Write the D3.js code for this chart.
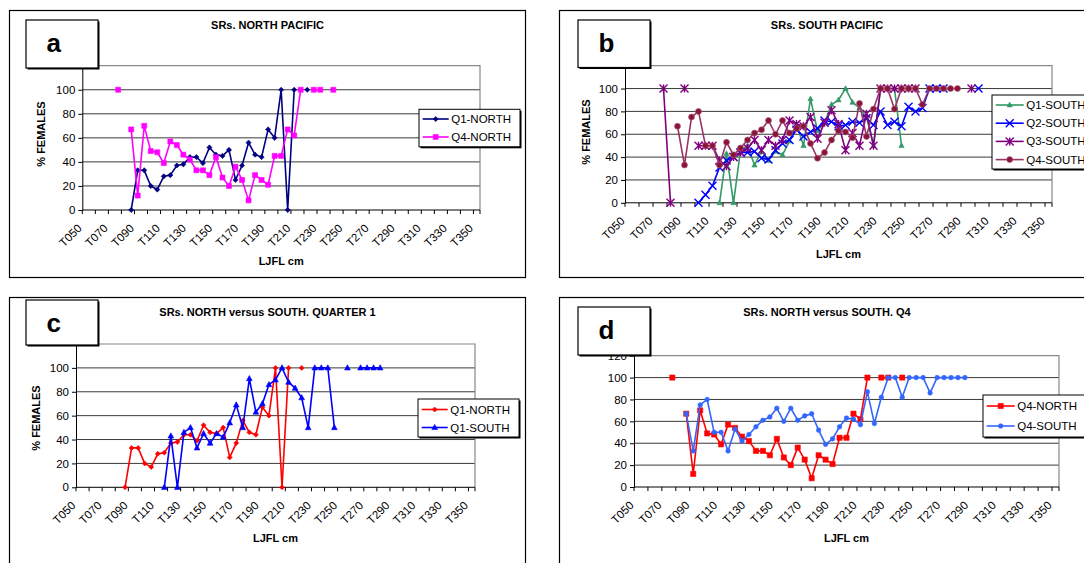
<!DOCTYPE html>
<html>
<head>
<meta charset="utf-8">
<script src="https://cdn.jsdelivr.net/npm/d3@7"></script>
<style>
  body { margin: 0; background: #fff; }
  svg text { font-family: "Liberation Sans", Arial, sans-serif; fill: #000; }
</style>
</head>
<body>
<svg id="chart" width="1084" height="563"></svg>
<script>
const _ = null;

// length classes, 5 cm steps
const categories = [
  "T050","T055","T060","T065","T070","T075","T080","T085","T090","T095",
  "T100","T105","T110","T115","T120","T125","T130","T135","T140","T145",
  "T150","T155","T160","T165","T170","T175","T180","T185","T190","T195",
  "T200","T205","T210","T215","T220","T225","T230","T235","T240","T245",
  "T250","T255","T260","T265","T270","T275","T280","T285","T290","T295",
  "T300","T305","T310","T315","T320","T325","T330","T335","T340","T345",
  "T350"
];
const xTickLabels = ["T050","T070","T090","T110","T130","T150","T170","T190",
  "T210","T230","T250","T270","T290","T310","T330","T350"];
const yTicks = [0, 20, 40, 60, 80, 100, 120];

// % females per length class
const q1North = [
  _,_,_,_,_,_,_,0,33,33,
  20,17,28,29,37,38,44,44,39,52,
  46,45,50,25,37,56,46,44,67,60,
  100,0,100,_,100,_,_,_,_,_,
  _,_,_,_,_,_,_,_,_,_,
  _,_,_,_,_,_,_,_,_,_,_
];
const q4North = [
  _,_,_,_,_,100,_,67,12,70,
  49,48,39,57,54,46,42,33,33,29,
  44,27,20,36,25,8,29,25,21,45,
  45,67,62,100,_,100,100,_,100,_,
  _,_,_,_,_,_,_,_,_,_,
  _,_,_,_,_,_,_,_,_,_,_
];
const q1South = [
  _,_,_,_,_,_,_,_,_,_,
  _,_,_,0,43,0,46,50,33,45,
  37,45,42,54,69,50,91,63,70,86,
  90,100,88,83,75,50,100,100,100,50,
  _,100,_,100,100,100,100,_,_,_,
  _,_,_,_,_,_,_,_,_,_,_
];
const q2South = [
  _,_,_,_,_,_,_,_,_,_,
  0,7,15,31,37,40,44,44,45,39,
  38,46,52,55,64,58,62,65,72,71,
  67,68,71,70,74,68,80,68,71,67,
  84,80,83,100,100,100,_,_,_,_,
  100,_,_,_,_,_,_,_,_,_,_
];
const q3South = [
  _,_,_,_,_,100,0,_,100,_,
  50,50,50,37,32,40,44,48,55,46,
  55,50,55,72,69,67,75,56,70,81,
  69,46,61,50,78,50,100,100,100,100,
  100,100,_,_,_,_,_,_,_,100,
  _,_,_,_,_,_,_,_,_,_,_
];
const q4South = [
  _,_,_,_,_,_,_,67,33,75,
  80,50,50,33,53,42,48,55,61,64,
  72,60,72,61,65,67,52,39,44,55,
  63,62,57,87,58,82,100,100,82,100,
  100,100,86,100,100,100,100,100,_,_,
  _,_,_,_,_,_,_,_,_,_,_
];

const panels = [
  {
    letter: "a", title: "SRs. NORTH PACIFIC", hideTop: true,
    frame: [9.5, 10.5, 516, 267], box: [26, 20, 72, 48], titleX: 267.5, titleY: 29,
    plot: { left: 82.3, right: 480, top: 65.7, bottom: 210 },
    yTitle: [45, 134], xTitleY: 265,
    legend: { x: 419, y: 109.3, w: 101, h: 37.5, first: 9.7, step: 18, sample: 26 },
    series: [
      { name: "Q1-NORTH", data: q1North, color: "#000080", marker: "diamond", r: 2.6 },
      { name: "Q4-NORTH", data: q4North, color: "#FF00FF", marker: "square", r: 2.5 }
    ]
  },
  {
    letter: "b", title: "SRs. SOUTH PACIFIC", hideTop: true,
    frame: [559.5, 10.5, 540, 267], box: [578, 20, 72, 47.5], titleX: 827, titleY: 29,
    plot: { left: 625, right: 1052, top: 65.7, bottom: 202.8 },
    yTitle: [590, 132], xTitleY: 258,
    legend: { x: 992, y: 95, w: 100, h: 74, first: 10, step: 18.2, sample: 28 },
    series: [
      { name: "Q1-SOUTH", data: q1South, color: "#339966", marker: "triangle", r: 2.4 },
      { name: "Q2-SOUTH", data: q2South, color: "#0000FF", marker: "x", r: 4 },
      { name: "Q3-SOUTH", data: q3South, color: "#800080", marker: "star", r: 4 },
      { name: "Q4-SOUTH", data: q4South, color: "#993366", fill: "#8B1538", marker: "circle", r: 3 }
    ]
  },
  {
    letter: "c", title: "SRs. NORTH versus SOUTH. QUARTER 1", hideTop: true,
    frame: [9.5, 297.5, 516, 280], box: [26, 300, 72, 45], titleX: 267.5, titleY: 316,
    plot: { left: 76, right: 475, top: 344, bottom: 487.3 },
    yTitle: [40, 418], xTitleY: 542,
    legend: { x: 418, y: 399, w: 101, h: 38, first: 10.5, step: 18, sample: 26 },
    series: [
      { name: "Q1-NORTH", data: q1North, color: "#FF0000", marker: "diamond", r: 2.5 },
      { name: "Q1-SOUTH", data: q1South, color: "#0000FF", marker: "triangle", r: 2.6 }
    ]
  },
  {
    letter: "d", title: "SRs. NORTH versus SOUTH. Q4", hideTop: false,
    frame: [559.5, 297.5, 540, 280], box: [578, 307, 72, 48], titleX: 827, titleY: 316,
    plot: { left: 634, right: 1059, top: 355.7, bottom: 487 },
    yTitle: null, xTitleY: 542,
    legend: { x: 983, y: 395, w: 110, h: 42, first: 11, step: 20, sample: 28 },
    series: [
      { name: "Q4-NORTH", data: q4North, color: "#FF0000", marker: "square", r: 2.6 },
      { name: "Q4-SOUTH", data: q4South, color: "#3366FF", marker: "circle", r: 2.3 }
    ]
  }
];

function markerPath(type, r) {
  switch (type) {
    case "diamond": return `M0,${-r}L${r},0L0,${r}L${-r},0Z`;
    case "square": return `M${-r},${-r}H${r}V${r}H${-r}Z`;
    case "triangle": return `M0,${-r * 1.2}L${r * 1.1},${r * 0.8}L${-r * 1.1},${r * 0.8}Z`;
    case "x": return `M${-r},${-r}L${r},${r}M${-r},${r}L${r},${-r}`;
    case "star": return `M${-r},${-r}L${r},${r}M${-r},${r}L${r},${-r}M0,${-r}L0,${r}`;
    case "circle": return d3.symbol(d3.symbolCircle, Math.PI * r * r)();
  }
}
const stroked = t => t === "x" || t === "star";

function styleMarker(sel, s) {
  sel.attr("d", markerPath(s.marker, s.r))
    .attr("fill", stroked(s.marker) ? "none" : (s.fill || s.color))
    .attr("stroke", stroked(s.marker) ? s.color : (s.fill ? "#b0607f" : s.color))
    .attr("stroke-width", stroked(s.marker) ? 1.4 : 0.6);
}

const svg = d3.select("#chart");

function drawPanel(p) {
  const g = svg.append("g");
  const [fx, fy, fw, fh] = p.frame;
  g.append("rect").attr("x", fx).attr("y", fy).attr("width", fw).attr("height", fh)
    .attr("fill", "#fff").attr("stroke", "#000").attr("stroke-width", 1.2);

  const x = d3.scaleBand().domain(categories).range([p.plot.left, p.plot.right]);
  const y = d3.scaleLinear().domain([0, 120]).range([p.plot.bottom, p.plot.top]);
  const bw = x.bandwidth();

  // gridlines
  g.selectAll(".grid").data(yTicks.filter(v => v > 0 && v < 120)).join("line")
    .attr("x1", p.plot.left).attr("x2", p.plot.right)
    .attr("y1", d => y(d)).attr("y2", d => y(d))
    .attr("stroke", "#3a3a3a").attr("stroke-width", 1);

  // plot area border (top, right)
  g.append("path")
    .attr("d", `M${p.plot.left},${y(120)}H${p.plot.right}V${y(0)}`)
    .attr("fill", "none").attr("stroke", "#888").attr("stroke-width", 1.2);

  // y axis (the 120 label sits under the letter box)
  const yAxis = g.append("g").attr("transform", `translate(${p.plot.left},0)`)
    .call(d3.axisLeft(y).tickValues(yTicks).tickSize(4).tickSizeOuter(0).tickPadding(3));
  yAxis.select(".domain").attr("stroke", "#000");
  yAxis.selectAll("text").style("font-size", "11.5px").style("font-family", "Liberation Sans, Arial, sans-serif");
  if (p.hideTop) yAxis.selectAll("text").filter(d => d === 120).remove();

  // x axis line, ticks every 2 classes, labels every 4
  g.append("line").attr("x1", p.plot.left).attr("x2", p.plot.right)
    .attr("y1", y(0)).attr("y2", y(0)).attr("stroke", "#000");
  const tickCats = categories.filter((c, i) => i % 2 === 0);
  g.selectAll(".xtick").data(tickCats.map(c => x(c)).concat([p.plot.right])).join("line")
    .attr("x1", d => d).attr("x2", d => d)
    .attr("y1", y(0)).attr("y2", y(0) + 4).attr("stroke", "#000");
  g.selectAll(".xlab").data(xTickLabels).join("text")
    .attr("transform", d => `translate(${x(d) + bw / 2 - 3},${y(0) + 19}) rotate(-45)`)
    .attr("text-anchor", "end").style("font-size", "11.5px").text(d => d);

  // series
  const line = d3.line().defined(d => d.v !== null)
    .x(d => x(d.c) + bw / 2).y(d => y(d.v));
  p.series.forEach(s => {
    const pts = categories.map((c, i) => ({ c, v: s.data[i] }));
    g.append("path").datum(pts).attr("d", line)
      .attr("fill", "none").attr("stroke", s.color).attr("stroke-width", 1.6)
      .attr("stroke-linejoin", "round");
    g.selectAll(null).data(pts.filter(d => d.v !== null)).join("path")
      .attr("transform", d => `translate(${x(d.c) + bw / 2},${y(d.v)})`)
      .call(styleMarker, s);
  });

  // legend
  const L = p.legend;
  g.append("rect").attr("x", L.x + 1.5).attr("y", L.y + 1.5).attr("width", L.w).attr("height", L.h)
    .attr("fill", "#000");
  g.append("rect").attr("x", L.x).attr("y", L.y).attr("width", L.w).attr("height", L.h)
    .attr("fill", "#fff").attr("stroke", "#000").attr("stroke-width", 1);
  p.series.forEach((s, k) => {
    const ly = L.y + L.first + k * L.step;
    const x0 = L.x + 3.7;
    g.append("line").attr("x1", x0).attr("x2", x0 + L.sample).attr("y1", ly).attr("y2", ly)
      .attr("stroke", s.color).attr("stroke-width", 1.6);
    g.append("path").attr("transform", `translate(${x0 + L.sample / 2},${ly})`).call(styleMarker, s);
    g.append("text").attr("x", x0 + L.sample + 2.5).attr("y", ly + 4)
      .style("font-size", "11.5px").text(s.name);
  });

  // letter box
  const [bx, by, bwid, bh] = p.box;
  g.append("rect").attr("x", bx + 1.5).attr("y", by + 1.5).attr("width", bwid).attr("height", bh)
    .attr("fill", "#000");
  g.append("rect").attr("x", bx).attr("y", by).attr("width", bwid).attr("height", bh)
    .attr("fill", "#fff").attr("stroke", "#000").attr("stroke-width", 1.2);
  g.append("text").attr("x", bx + 20.5).attr("y", by + 32)
    .style("font-size", "26px").style("font-weight", "bold").text(p.letter);

  // titles
  g.append("text").attr("x", p.titleX).attr("y", p.titleY).attr("text-anchor", "middle")
    .style("font-size", "11px").style("font-weight", "bold").text(p.title);
  g.append("text").attr("x", (p.plot.left + p.plot.right) / 2).attr("y", p.xTitleY)
    .attr("text-anchor", "middle").style("font-size", "11px").style("font-weight", "bold")
    .text("LJFL cm");
  if (p.yTitle) {
    g.append("text").attr("transform", `translate(${p.yTitle[0]},${p.yTitle[1]}) rotate(-90)`)
      .attr("text-anchor", "middle").style("font-size", "11px").style("font-weight", "bold")
      .text("% FEMALES");
  }
}

panels.forEach(drawPanel);
</script>
</body>
</html>
